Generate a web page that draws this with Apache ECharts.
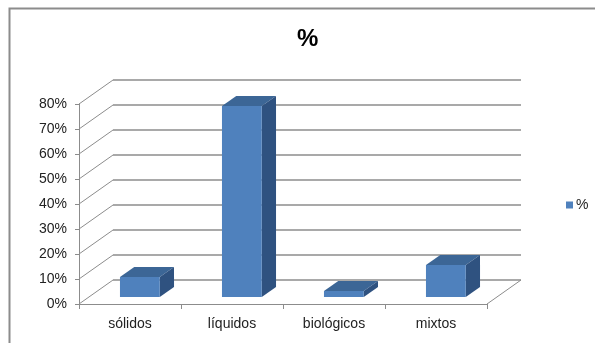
<!DOCTYPE html>
<html>
<head>
<meta charset="utf-8">
<script src="https://cdn.jsdelivr.net/npm/echarts@6/dist/echarts.min.js"></script>
<style>
  html, body { margin: 0; padding: 0; background: #fff; }
  #chart { width: 595px; height: 343px; }
</style>
</head>
<body>
<div id="chart"></div>
<script>
// datos del gráfico
var categories = ['sólidos', 'líquidos', 'biológicos', 'mixtos'];
var values = [0.08, 0.764, 0.024, 0.128];
var tickValues = [0, 0.1, 0.2, 0.3, 0.4, 0.5, 0.6, 0.7, 0.8];
var seriesName = '%';

var FONT = 'Liberation Sans';
var GRID_COLOR = '#8c8c8c';
// desplazamiento de profundidad (pared trasera)
var DEPTH_X = 34, DEPTH_Y = -24;

var myChart = echarts.init(document.getElementById('chart'));

function barItem(params, api) {
    var p = api.coord([api.value(0), api.value(1)]);
    var p0 = api.coord([api.value(0), 0]);
    var band = api.size([1, 0])[0];
    var w = band * 0.39;
    // cara frontal de la barra a ~30% de la profundidad
    var ox = DEPTH_X * 0.29, oy = DEPTH_Y * 0.29;
    var dx = DEPTH_X * 0.42, dy = DEPTH_Y * 0.42;
    var x1 = p[0] - w / 2 + ox, x2 = p[0] + w / 2 + ox;
    var yt = p[1] + oy, yb = p0[1] + oy;
    return {
        type: 'group',
        children: [
            {type: 'polygon', shape: {points: [[x1, yt], [x2, yt], [x2 + dx, yt + dy], [x1 + dx, yt + dy]]},
                style: {fill: '#3c6696'}},
            {type: 'polygon', shape: {points: [[x2, yt], [x2 + dx, yt + dy], [x2 + dx, yb + dy], [x2, yb]]},
                style: {fill: '#2f5280'}},
            {type: 'rect', shape: {x: x1, y: yt, width: w, height: yb - yt},
                style: {fill: '#4f81bd'}}
        ]
    };
}

function diagItem(params, api) {
    var v = api.value(1);
    var band = api.size([1, 0])[0];
    var pl = api.coord([0, v]);
    var xl = pl[0] - band / 2;
    var children = [{
        type: 'line',
        shape: {x1: xl, y1: pl[1], x2: xl + DEPTH_X, y2: pl[1] + DEPTH_Y},
        style: {stroke: GRID_COLOR, lineWidth: 1}
    }];
    if (v === 0) {
        var pr = api.coord([categories.length - 1, 0]);
        var xr = pr[0] + band / 2;
        children.push({
            type: 'line',
            shape: {x1: xr, y1: pr[1], x2: xr + DEPTH_X, y2: pr[1] + DEPTH_Y},
            style: {stroke: GRID_COLOR, lineWidth: 1}
        });
    }
    return {type: 'group', children: children};
}

var option = {
    animation: false,
    title: {
        text: '%',
        left: 292,
        top: 22,
        textStyle: {fontFamily: FONT, fontSize: 24, fontWeight: 'bold', color: '#000'}
    },
    legend: {
        data: [seriesName],
        left: 561,
        top: 193,
        icon: 'rect',
        itemWidth: 7,
        itemHeight: 7,
        itemGap: 4,
        textStyle: {fontFamily: FONT, fontSize: 14, color: '#222', padding: [0, 0, 0, -2]}
    },
    graphic: [{
        type: 'rect',
        shape: {x: 9.5, y: 8.5, width: 700, height: 400},
        style: {fill: 'none', stroke: '#8c8c8c', lineWidth: 2},
        z: -10
    }],
    grid: [
        {left: 79, right: 108, top: 104, bottom: 39},
        {left: 113, right: 74, top: 80, bottom: 63}
    ],
    xAxis: [
        {
            gridIndex: 0,
            type: 'category',
            data: categories,
            axisLine: {lineStyle: {color: GRID_COLOR}},
            axisTick: {show: true, length: 5, lineStyle: {color: GRID_COLOR}},
            axisLabel: {fontFamily: FONT, fontSize: 14, color: '#222', margin: 13}
        },
        {
            gridIndex: 1,
            type: 'category',
            data: categories,
            show: false
        }
    ],
    yAxis: [
        {
            gridIndex: 0,
            type: 'value',
            min: 0,
            max: 0.8,
            interval: 0.1,
            axisLine: {show: true, lineStyle: {color: GRID_COLOR}},
            axisTick: {show: true, length: 4, lineStyle: {color: GRID_COLOR}},
            splitLine: {show: false},
            axisLabel: {
                fontFamily: FONT, fontSize: 14, color: '#222', margin: 12,
                formatter: function (v) { return Math.round(v * 100) + '%'; }
            }
        },
        {
            gridIndex: 1,
            type: 'value',
            min: 0,
            max: 0.8,
            interval: 0.1,
            axisLine: {show: false},
            axisTick: {show: false},
            axisLabel: {show: false},
            splitLine: {show: true, lineStyle: {color: GRID_COLOR, width: 1.5}}
        }
    ],
    series: [
        {
            type: 'custom',
            name: 'diag',
            xAxisIndex: 0,
            yAxisIndex: 0,
            renderItem: diagItem,
            data: tickValues.map(function (v) { return [0, v]; }),
            silent: true,
            z: 1
        },
        {
            type: 'custom',
            name: seriesName,
            xAxisIndex: 0,
            yAxisIndex: 0,
            itemStyle: {color: '#4f81bd'},
            renderItem: barItem,
            data: values.map(function (v, i) { return [i, v]; }),
            z: 5
        }
    ]
};

myChart.setOption(option);
</script>
</body>
</html>
